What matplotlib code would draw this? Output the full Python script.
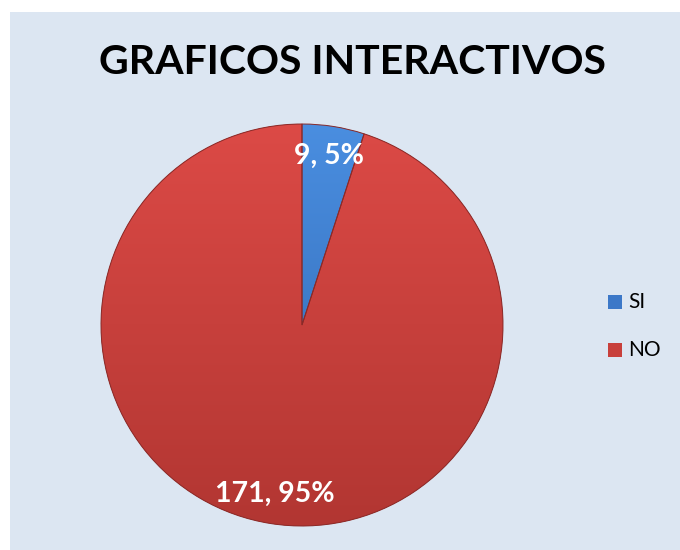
import numpy as np
import matplotlib.pyplot as plt
from matplotlib.patches import Rectangle
from matplotlib.colors import LinearSegmentedColormap

categorias = ['SI', 'NO']
valores = [9, 171]
porcentajes = [5, 95]
colores_top = ['#4a8ee0', '#dc4a46']
colores_bot = ['#2f66b0', '#b23632']
colores_leg = ['#3c78c8', '#c8403c']
titulo = 'GRAFICOS INTERACTIVOS'

plt.rcParams['font.family'] = ['Lato', 'DejaVu Sans']

fig = plt.figure(figsize=(6.8, 5.5), dpi=100)
fig.patch.set_facecolor('white')
fig.patches.append(Rectangle((10 / 680, 0), 1, 1 - 12 / 550, transform=fig.transFigure,
                             facecolor='#dce6f2', edgecolor='none', zorder=-5))

# pie centred at (302, 325) px, radius 201 px
cx, cy, r = 302, 325, 201
ax = fig.add_axes([(cx - r) / 680, (550 - cy - r) / 550, 2 * r / 680, 2 * r / 550])
ax.set_zorder(1)
ax.patch.set_visible(False)

wedges, _ = ax.pie(valores, startangle=90, counterclock=False, radius=1,
                   colors=colores_leg, wedgeprops=dict(edgecolor='none'))

grad = np.linspace(1, 0, 256).reshape(-1, 1)
for w, ct, cb in zip(wedges, colores_top, colores_bot):
    cmap = LinearSegmentedColormap.from_list('g', [cb, ct])
    im = ax.imshow(grad, cmap=cmap, extent=[-1, 1, -1, 1], origin='upper',
                   aspect='auto', zorder=2, vmin=0, vmax=1)
    im.set_clip_path(w)
    w.set_zorder(1)

# borde
ax.pie(valores, startangle=90, counterclock=False, radius=1,
       colors=['none', 'none'], wedgeprops=dict(edgecolor='#8a2a28', linewidth=0.7, zorder=3))

for w, v, p in zip(wedges, valores, porcentajes):
    ang = np.deg2rad((w.theta1 + w.theta2) / 2)
    ax.text(0.85 * np.cos(ang), 0.85 * np.sin(ang), f'{v}, {p}%', color='white',
            fontsize=20.5, fontweight='bold', ha='center', va='center', zorder=5)

ax.set_xlim(-1, 1)
ax.set_ylim(-1, 1)
ax.axis('off')

fig.text(352 / 680, 1 - 62 / 550, titulo, fontsize=29.5, fontweight='bold',
         ha='center', va='center', color='black')

for i, (cat, col) in enumerate(zip(categorias, colores_leg)):
    y = 1 - (302 + 48 * i) / 550
    fig.patches.append(Rectangle((608 / 680, y - 7 / 550), 14 / 680, 14 / 550,
                                 transform=fig.transFigure, facecolor=col,
                                 edgecolor='none', zorder=2))
    fig.text(628 / 680, y, cat, fontsize=15, ha='left', va='center', color='black')

fig.savefig('out.png', dpi=100)
